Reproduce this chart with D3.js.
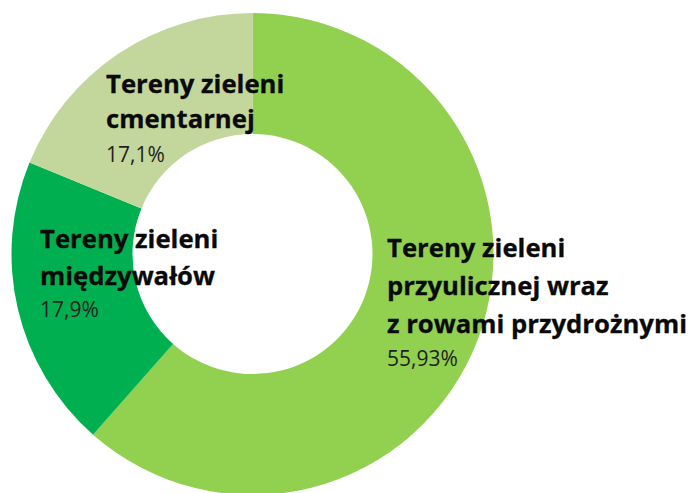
<!DOCTYPE html>
<html>
<head>
<meta charset="utf-8">
<script src="https://cdn.jsdelivr.net/npm/d3@7"></script>
<style>
  html, body { margin: 0; padding: 0; background: #fff; }
  svg { display: block; }
</style>
</head>
<body>
<svg id="chart" width="691" height="493"></svg>
<script>
// Udział poszczególnych typów terenów zieleni
const categories = [
  "Tereny zieleni przyulicznej wraz z rowami przydrożnymi",
  "Tereny zieleni międzywałów",
  "Tereny zieleni cmentarnej"
];
const values = [55.93, 17.9, 17.1];
const valueLabels = ["55,93%", "17,9%", "17,1%"];
const labelLines = [
  ["Tereny zieleni", "przyulicznej wraz", "z rowami przydrożnymi"],
  ["Tereny zieleni", "międzywałów"],
  ["Tereny zieleni", "cmentarnej"]
];
const colors = ["#92D050", "#00B050", "#C3D69B"];

const svg = d3.select("#chart");
const cx = 252.5, cy = 254, outerR = 241, innerR = 120;

const pie = d3.pie().sort(null).value(d => d)(values);
const arc = d3.arc().innerRadius(innerR).outerRadius(outerR);
const color = d3.scaleOrdinal().domain(d3.range(values.length)).range(colors);

const g = svg.append("g").attr("transform", `translate(${cx},${cy})`);
g.selectAll("path.slice")
  .data(pie)
  .join("path")
  .attr("class", "slice")
  .attr("d", arc)
  .attr("fill", (d, i) => color(i));

// label anchors: left edge, first baseline, line step, gap to the value line
const labelPos = [
  { x: 387, y: 257, step: 38, gap: 33 },
  { x: 40, y: 248, step: 37, gap: 32 },
  { x: 106, y: 93, step: 35, gap: 34 }
];

const font = "'Open Sans', 'DejaVu Sans', sans-serif";
labelLines.forEach((lines, i) => {
  const p = labelPos[i];
  const t = svg.append("g");
  lines.forEach((line, j) => {
    t.append("text")
      .attr("x", p.x)
      .attr("y", p.y + j * p.step)
      .attr("font-family", font)
      .attr("font-weight", 700)
      .attr("font-size", 25.7)
      .attr("fill", "#0a0a0a")
      .attr("stroke", "#0a0a0a")
      .attr("stroke-width", 0.3)
      .text(line);
  });
  t.append("text")
    .attr("x", p.x)
    .attr("y", p.y + (lines.length - 1) * p.step + p.gap)
    .attr("font-family", font)
    .attr("font-size", 21)
    .attr("fill", "#1f1f1f")
    .text(valueLabels[i]);
});
</script>
</body>
</html>
